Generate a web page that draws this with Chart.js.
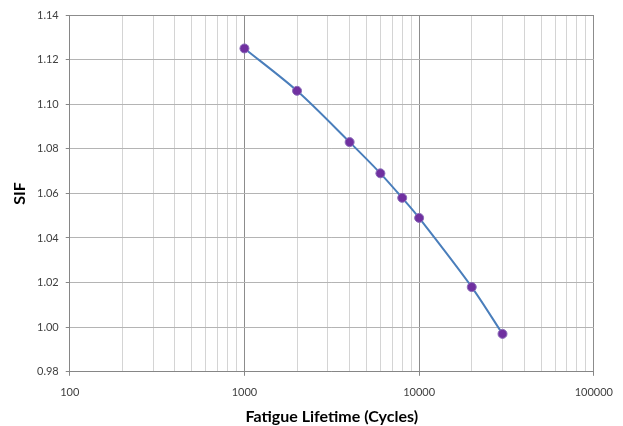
<!DOCTYPE html>
<html>
<head>
<meta charset="utf-8">
<script src="https://cdn.jsdelivr.net/npm/chart.js@4/dist/chart.umd.min.js"></script>
<style>
  html, body { margin: 0; padding: 0; background: #fff; }
  canvas { display: block; }
</style>
</head>
<body>
<canvas id="sifChart" width="623" height="426"></canvas>
<script>
const lifetimes = [1000, 2000, 4000, 6000, 8000, 10000, 20000, 30000];
const sifValues = [1.125, 1.106, 1.083, 1.069, 1.058, 1.049, 1.018, 0.997];
const xTickLabels = [100, 1000, 10000, 100000];
const yMin = 0.98, yMax = 1.14, yStep = 0.02;

const isDecade = v => xTickLabels.includes(Math.round(v));

const ctx = document.getElementById('sifChart').getContext('2d');

new Chart(ctx, {
  type: 'line',
  data: {
    datasets: [{
      label: 'SIF',
      data: lifetimes.map((x, i) => ({ x: x, y: sifValues[i] })),
      borderColor: '#4a7ebb',
      borderWidth: 2,
      backgroundColor: '#7030a0',
      pointBackgroundColor: '#7030a0',
      pointBorderColor: '#8a6cb8',
      pointBorderWidth: 1,
      pointRadius: 4.5,
      tension: 0.3,
      fill: false
    }]
  },
  options: {
    responsive: false,
    devicePixelRatio: 1,
    animation: false,
    layout: { padding: { left: 12, right: 23, top: 15, bottom: 1 } },
    plugins: {
      legend: { display: false },
      tooltip: { enabled: false }
    },
    scales: {
      x: {
        type: 'logarithmic',
        min: 100,
        max: 100000,
        afterBuildTicks: axis => {
          const t = [];
          for (let d = 100; d <= 100000; d *= 10) {
            for (let k = 1; k <= 9; k++) {
              if (d * k <= 100000) t.push({ value: d * k });
            }
          }
          axis.ticks = t;
        },
        ticks: {
          autoSkip: false,
          maxRotation: 0,
          color: '#404040',
          font: { family: 'Lato, "Open Sans", sans-serif', size: 11 },
          padding: 10,
          callback: v => isDecade(v) ? String(Math.round(v)) : ''
        },
        grid: {
          color: c => (c.tick && isDecade(c.tick.value)) ? '#8c8c8c' : '#d4d4d4',
          tickColor: c => (c.tick && isDecade(c.tick.value)) ? '#868686' : 'rgba(0,0,0,0)',
          tickLength: 4
        },
        border: { color: '#868686', width: 1 },
        title: {
          display: true,
          text: 'Fatigue Lifetime (Cycles)',
          color: '#000',
          font: { family: 'Lato, "Open Sans", sans-serif', size: 16, weight: 'bold', lineHeight: 1 },
          padding: { top: 0, bottom: 0 }
        }
      },
      y: {
        min: yMin,
        max: yMax,
        ticks: {
          stepSize: yStep,
          color: '#404040',
          font: { family: 'Lato, "Open Sans", sans-serif', size: 11 },
          padding: 7,
          callback: v => v.toFixed(2)
        },
        grid: {
          color: c => (c.tick && Math.abs(c.tick.value - yMax) < 1e-6) ? '#8c8c8c' : '#b4b4b4',
          tickColor: '#868686',
          tickLength: 4
        },
        border: { color: '#868686', width: 1 },
        title: {
          display: true,
          text: 'SIF',
          color: '#000',
          font: { family: 'Lato, "Open Sans", sans-serif', size: 16, weight: 'bold', lineHeight: 1 },
          padding: { top: 0, bottom: 2 }
        }
      }
    }
  }
});
</script>
</body>
</html>
